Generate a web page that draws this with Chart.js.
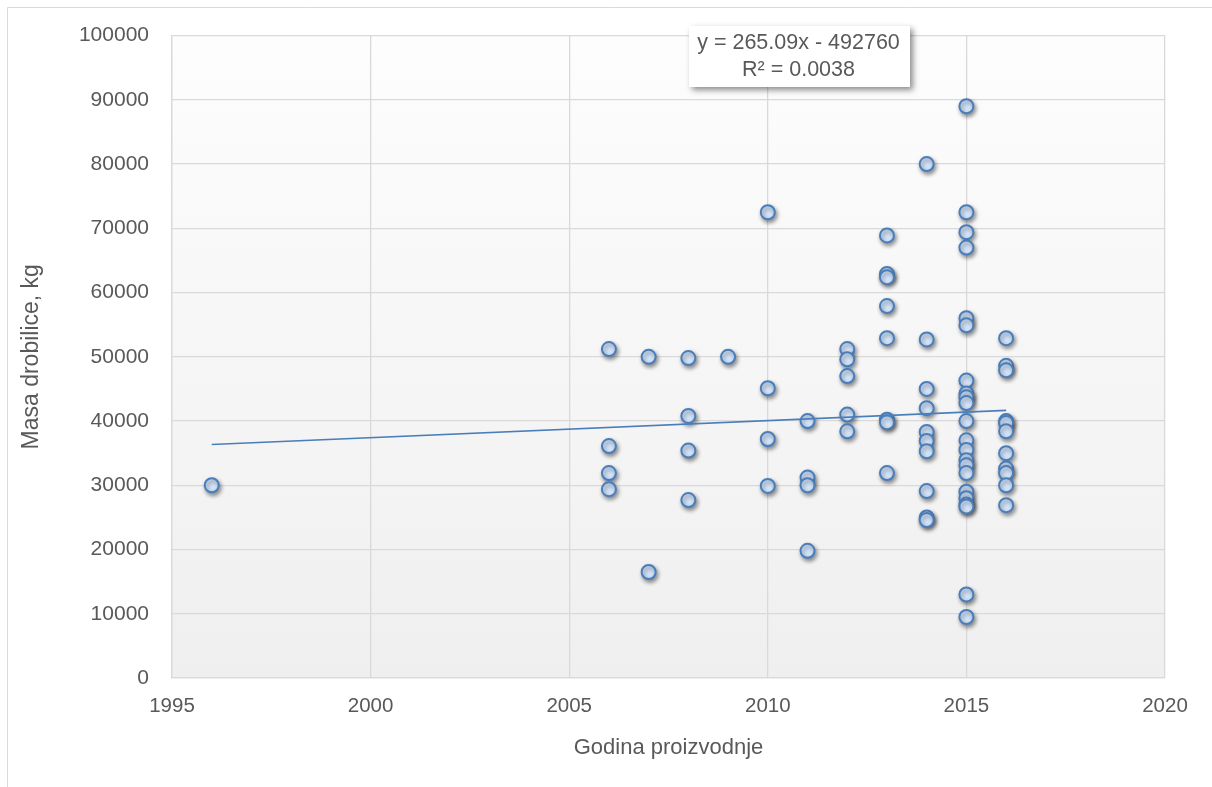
<!DOCTYPE html>
<html>
<head>
<meta charset="utf-8">
<script src="https://cdn.jsdelivr.net/npm/chart.js@4.4.0/dist/chart.umd.min.js"></script>
<style>
  html, body { margin: 0; padding: 0; background: #ffffff; }
  #wrap { position: relative; width: 1212px; height: 787px; }
</style>
</head>
<body>
<div id="wrap"><canvas id="c" width="1212" height="787"></canvas></div>
<script>
// ---- data ----
const years = [
  1996,
  2006, 2006, 2006, 2006,
  2007, 2007,
  2008, 2008, 2008, 2008,
  2009,
  2010, 2010, 2010, 2010,
  2011, 2011, 2011, 2011,
  2012, 2012, 2012, 2012, 2012,
  2013, 2013, 2013, 2013, 2013, 2013, 2013, 2013,
  2014, 2014, 2014, 2014, 2014, 2014, 2014, 2014, 2014, 2014,
  2015, 2015, 2015, 2015, 2015, 2015, 2015, 2015, 2015, 2015, 2015,
  2015, 2015, 2015, 2015, 2015, 2015, 2015, 2015, 2015, 2015, 2015,
  2016, 2016, 2016, 2016, 2016, 2016, 2016, 2016, 2016, 2016, 2016
];
const masses = [
  30000,
  51200, 36100, 31900, 29400,
  50000, 16500,
  49800, 40800, 35400, 27700,
  50000,
  72500, 45100, 37200, 29900,
  40000, 31200, 30000, 19800,
  51200, 49600, 47000, 41000, 38400,
  68900, 62900, 62400, 57900, 52900, 40200, 39800, 31900,
  80000, 52700, 45000, 42000, 38300, 36900, 35300, 29100, 25000, 24600,
  89000, 72500, 69400, 67000, 56000, 54900, 46300, 44300, 43700, 42800, 40000,
  37000, 35500, 33900, 33100, 31900, 29000, 28000, 27000, 26700, 13000, 9500,
  52900, 48600, 47900, 40000, 39700, 38400, 35000, 32600, 31900, 30000, 26900
];
const trendSlope = 265.09;
const trendIntercept = -492760;
const trendLabel = ["y = 265.09x - 492760", "R\u00B2 = 0.0038"];
const xTitle = "Godina proizvodnje";
const yTitle = "Masa drobilice, kg";

const points = years.map((yr, i) => ({ x: yr, y: masses[i] }));
const xMin = Math.min(...years), xMax = Math.max(...years);
const trend = [
  { x: xMin, y: trendSlope * xMin + trendIntercept },
  { x: xMax, y: trendSlope * xMax + trendIntercept }
];

const FONT = "'Liberation Sans', Arial, sans-serif";
const GRID = '#d9d9d9';
const TEXT = '#595959';

const bgPlugin = {
  id: 'bg',
  beforeDraw(chart) {
    const { ctx, chartArea: a } = chart;
    ctx.save();
    ctx.fillStyle = '#ffffff';
    ctx.fillRect(0, 0, chart.width, chart.height);
    const g = ctx.createLinearGradient(0, a.top, 0, a.bottom);
    g.addColorStop(0, '#fdfdfd');
    g.addColorStop(1, '#efefef');
    ctx.fillStyle = g;
    ctx.fillRect(a.left, a.top, a.right - a.left, a.bottom - a.top);
    // outer chart border
    ctx.strokeStyle = GRID;
    ctx.lineWidth = 1;
    ctx.beginPath();
    ctx.moveTo(7.5, chart.height);
    ctx.lineTo(7.5, 7.5);
    ctx.lineTo(chart.width, 7.5);
    ctx.stroke();
    ctx.restore();
  },
  beforeDatasetDraw(chart, args) {
    const ctx = chart.ctx;
    ctx.save();
    if (args.index === 1) {
      ctx.shadowColor = 'rgba(0,0,0,0.42)';
      ctx.shadowBlur = 4;
      ctx.shadowOffsetX = 1.5;
      ctx.shadowOffsetY = 2.5;
    }
  },
  afterDatasetDraw(chart) {
    chart.ctx.restore();
  },
  afterDraw(chart) {
    const ctx = chart.ctx;
    const bx = 689, by = 26, bw = 221, bh = 61;
    ctx.save();
    ctx.shadowColor = 'rgba(0,0,0,0.45)';
    ctx.shadowBlur = 6;
    ctx.shadowOffsetX = 3;
    ctx.shadowOffsetY = 3;
    ctx.fillStyle = '#ffffff';
    ctx.fillRect(bx, by, bw, bh);
    ctx.restore();
    ctx.save();
    ctx.fillStyle = TEXT;
    ctx.font = "21.5px " + FONT;
    ctx.textAlign = 'center';
    ctx.textBaseline = 'middle';
    ctx.fillText(trendLabel[0], bx + bw / 2 - 1, by + 17);
    ctx.fillText(trendLabel[1], bx + bw / 2 - 1, by + 44);
    ctx.restore();
  }
};

new Chart(document.getElementById('c'), {
  type: 'scatter',
  data: {
    datasets: [
      {
        type: 'line',
        data: trend,
        borderColor: '#4a7ebb',
        borderWidth: 1.6,
        pointRadius: 0,
        fill: false,
        order: 0
      },
      {
        type: 'scatter',
        data: points,
        backgroundColor: '#d2e3fa',
        borderColor: '#4a7ebb',
        borderWidth: 2,
        pointRadius: 7,
        pointHoverRadius: 7,
        order: 1
      }
    ]
  },
  options: {
    responsive: false,
    animation: false,
    events: [],
    layout: { padding: { left: 0, right: 47, top: 35, bottom: 0 } },
    plugins: { legend: { display: false }, tooltip: { enabled: false } },
    scales: {
      x: {
        type: 'linear',
        min: 1995, max: 2020,
        ticks: { stepSize: 5, color: TEXT, font: { family: FONT, size: 20.5 }, padding: 16,
                 callback: v => String(v) },
        grid: { color: GRID, lineWidth: 1.3, drawTicks: false },
        border: { color: GRID, width: 1.3 },
        title: { display: true, text: xTitle, color: TEXT, font: { family: FONT, size: 22 }, padding: { top: 0, bottom: 26 } },
        afterFit(s) { s.height = 109; }
      },
      y: {
        type: 'linear',
        min: 0, max: 100000,
        ticks: { stepSize: 10000, color: TEXT, font: { family: FONT, size: 21 }, padding: 23,
                 callback: v => String(v) },
        grid: { color: GRID, lineWidth: 1.3, drawTicks: false },
        border: { color: GRID, width: 1.3 },
        title: { display: true, text: yTitle, color: TEXT, font: { family: FONT, size: 23 }, padding: { top: 18, bottom: 0 } },
        afterFit(s) { s.width = 172; }
      }
    }
  },
  plugins: [bgPlugin]
});
</script>
</body>
</html>
